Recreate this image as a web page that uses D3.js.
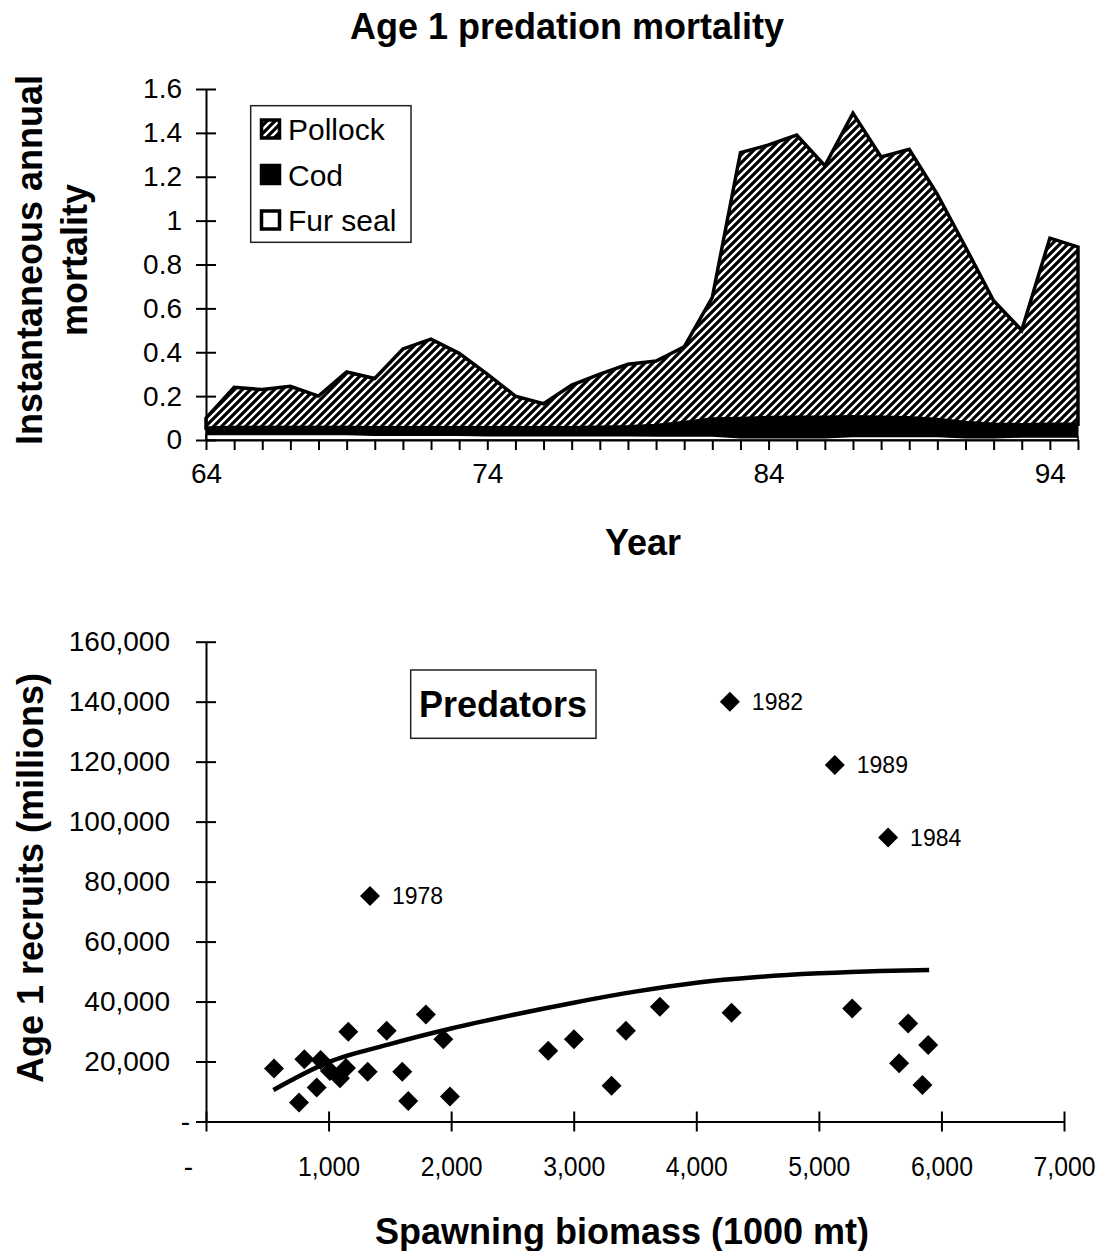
<!DOCTYPE html>
<html lang="en">
<head>
<meta charset="UTF-8">
<title>Age 1 predation mortality</title>
<script src="https://d3js.org/d3.v7.min.js"></script>
<style>
  body { margin: 0; background: #fff; }
  svg text { font-family: 'Liberation Sans', Arial, sans-serif; fill: #000; }
  .axis path, .axis line { stroke: #000; stroke-width: 2; }
</style>
</head>
<body>
<div id="chart"></div>
<script>

// ---- top panel: predation mortality by predator ----
var years = [64,65,66,67,68,69,70,71,72,73,74,75,76,77,78,79,80,81,82,83,84,85,86,87,88,89,90,91,92,93,94,95];
var pollock = [0.045,0.183,0.173,0.188,0.143,0.253,0.224,0.359,0.404,0.339,0.244,0.144,0.109,0.194,0.242,0.285,
               0.294,0.345,0.554,1.212,1.243,1.286,1.146,1.384,1.186,1.224,1.026,0.800,0.563,0.430,0.848,0.808];
var cod = [0.030,0.032,0.032,0.032,0.032,0.032,0.034,0.034,0.034,0.034,0.036,0.036,0.036,0.036,0.038,0.040,
           0.048,0.062,0.078,0.088,0.092,0.094,0.094,0.090,0.088,0.085,0.078,0.070,0.062,0.056,0.058,0.058];
var furSeal = [0.025,0.025,0.025,0.025,0.025,0.025,0.022,0.022,0.022,0.022,0.020,0.020,0.020,0.020,0.020,0.020,
               0.018,0.018,0.018,0.010,0.010,0.010,0.010,0.016,0.016,0.016,0.016,0.010,0.010,0.014,0.014,0.014];
var seriesNames = ["Pollock", "Cod", "Fur seal"];
var yTicksTop = [0, 0.2, 0.4, 0.6, 0.8, 1, 1.2, 1.4, 1.6];
var yearLabels = [64, 74, 84, 94];

// ---- bottom panel: recruits vs spawning biomass ----
var ssb = [555,759,802,903,935,1011,1093,1142,1161,1319,1474,1601,1650,1794,1936,1990,
           2792,3002,3309,3426,3703,4288,5272,5729,5892,5655,5845,
           1338,4274,5130,5565];
var recruits = [17700,6300,20800,11300,20500,16800,14400,17800,29900,16600,30300,16600,6800,35700,27400,8300,
                23600,27400,11900,30300,38300,36300,37700,32700,25500,19400,12200,
                75200,140000,118900,94700];
var pointYears = ["","","","","","","","","","","","","","","","",
                  "","","","","","","","","","","",
                  "1978","1982","1989","1984"];
var curveSsb = [550,1000,1500,2000,2500,3000,3500,4000,4500,5000,5500,5900];
var curveRecruits = [10500,19800,25800,31000,35500,39600,43300,46300,48200,49400,50200,50500];
var yTicksBottom = [0,20000,40000,60000,80000,100000,120000,140000,160000];
var xTicksBottom = [0,1000,2000,3000,4000,5000,6000,7000];

var svg = d3.select("#chart").append("svg")
  .attr("width", 1112)
  .attr("height", 1251);

var defs = svg.append("defs");
var hatch = defs.append("pattern")
  .attr("id", "hatch")
  .attr("patternUnits", "userSpaceOnUse")
  .attr("width", 8)
  .attr("height", 8);
hatch.append("rect").attr("width", 8).attr("height", 8).attr("fill", "#fff");
hatch.append("path")
  .attr("d", "M-2,2 L2,-2 M0,8 L8,0 M6,10 L10,6")
  .attr("stroke", "#000")
  .attr("stroke-width", 3.2);

// ================= top chart =================
var x1 = d3.scaleLinear().domain([64, 95]).range([206, 1078]);
var y1 = d3.scaleLinear().domain([0, 1.6]).range([440, 89]);

var table = years.map(function(yr, i) {
  return { year: yr, "Fur seal": furSeal[i], "Cod": cod[i], "Pollock": pollock[i] };
});
var stacked = d3.stack().keys(["Fur seal", "Cod", "Pollock"])(table);

var area = d3.area()
  .x(function(d) { return x1(d.data.year); })
  .y0(function(d) { return y1(d[0]); })
  .y1(function(d) { return y1(d[1]); });

var styles = {
  "Pollock": { fill: "url(#hatch)", sw: 3.5 },
  "Cod": { fill: "#000", sw: 1 },
  "Fur seal": { fill: "#fff", sw: 1.6 }
};

// draw pollock first so its outline sits under the cod band
["Pollock", "Cod", "Fur seal"].forEach(function(k) {
  var layer = stacked.find(function(s) { return s.key === k; });
  svg.append("path")
    .datum(layer)
    .attr("d", area)
    .attr("fill", styles[k].fill)
    .attr("stroke", "#000")
    .attr("stroke-width", styles[k].sw)
    .attr("stroke-linejoin", "miter");
});

var yAxisTop = svg.append("g")
  .attr("class", "axis")
  .attr("transform", "translate(206,0)")
  .call(d3.axisLeft(y1).tickValues(yTicksTop).tickSize(10).tickSizeOuter(0).tickPadding(14)
    .tickFormat(function(d) { return String(d); }));
yAxisTop.selectAll(".tick line").attr("x1", 10).attr("x2", -10);
yAxisTop.selectAll("text").style("font-size", "28px");

var xAxisTop = svg.append("g")
  .attr("class", "axis")
  .attr("transform", "translate(0,440)")
  .call(d3.axisBottom(x1).tickValues(years).tickSize(10).tickSizeOuter(0).tickPadding(13)
    .tickFormat(function(d) { return yearLabels.indexOf(d) >= 0 ? d : ""; }));
xAxisTop.selectAll("text").style("font-size", "28px");

// legend
svg.append("rect")
  .attr("x", 250.7).attr("y", 105.7)
  .attr("width", 160.3).attr("height", 136.6)
  .attr("fill", "#fff").attr("stroke", "#222").attr("stroke-width", 1.5);

var legendFill = { "Pollock": "url(#hatch)", "Cod": "#000", "Fur seal": "#fff" };
var legend = svg.selectAll(".leg")
  .data(seriesNames)
  .enter().append("g")
  .attr("class", "leg")
  .attr("transform", function(d, i) { return "translate(0," + (140 + i * 45.5) + ")"; });
legend.append("rect")
  .attr("x", 261.5).attr("y", -20)
  .attr("width", 18).attr("height", 18)
  .attr("fill", function(d) { return legendFill[d]; })
  .attr("stroke", "#000").attr("stroke-width", 3.5);
legend.append("text")
  .attr("x", 288).attr("y", 0)
  .style("font-size", "30px")
  .text(function(d) { return d; });

svg.append("text")
  .attr("x", 567).attr("y", 39)
  .attr("text-anchor", "middle")
  .style("font-size", "36px").style("font-weight", "bold")
  .text("Age 1 predation mortality");

svg.append("text")
  .attr("transform", "translate(42,260) rotate(-90)")
  .attr("text-anchor", "middle")
  .style("font-size", "36px").style("font-weight", "bold")
  .text("Instantaneous annual");
svg.append("text")
  .attr("transform", "translate(87,260) rotate(-90)")
  .attr("text-anchor", "middle")
  .style("font-size", "36px").style("font-weight", "bold")
  .text("mortality");

svg.append("text")
  .attr("x", 643).attr("y", 555)
  .attr("text-anchor", "middle")
  .style("font-size", "36px").style("font-weight", "bold")
  .text("Year");

// ================= bottom chart =================
var x2 = d3.scaleLinear().domain([0, 7000]).range([206, 1064]);
var y2 = d3.scaleLinear().domain([0, 160000]).range([1121.5, 641.7]);
var comma = d3.format(",");

var yAxisBot = svg.append("g")
  .attr("class", "axis")
  .attr("transform", "translate(206,0)")
  .call(d3.axisLeft(y2).tickValues(yTicksBottom).tickSize(10).tickSizeOuter(0).tickPadding(26)
    .tickFormat(function(d) { return d === 0 ? "-" : comma(d); }));
yAxisBot.selectAll(".tick line").attr("x1", 10).attr("x2", -10);
yAxisBot.selectAll("text").style("font-size", "28px");
yAxisBot.selectAll(".tick text").filter(function(d) { return d === 0; }).attr("x", -16);

var xAxisBot = svg.append("g")
  .attr("class", "axis")
  .attr("transform", "translate(0,1121.5)")
  .call(d3.axisBottom(x2).tickValues(xTicksBottom).tickSize(10).tickSizeOuter(0).tickPadding(25)
    .tickFormat(function(d) { return d === 0 ? "-" : comma(d); }));
xAxisBot.selectAll(".tick line").attr("y1", -10).attr("y2", 10);
xAxisBot.selectAll("text").style("font-size", "28px");
xAxisBot.selectAll(".tick text").filter(function(d) { return d === 0; }).attr("dx", -18);
xAxisBot.selectAll(".tick text").filter(function(d) { return d !== 0; })
  .attr("textLength", 62).attr("lengthAdjust", "spacingAndGlyphs");

// fitted curve
var curveLine = d3.line()
  .x(function(d, i) { return x2(curveSsb[i]); })
  .y(function(d) { return y2(d); })
  .curve(d3.curveMonotoneX);
svg.append("path")
  .attr("d", curveLine(curveRecruits))
  .attr("fill", "none")
  .attr("stroke", "#000")
  .attr("stroke-width", 4.5);

// diamonds
var diamond = d3.symbol().type(d3.symbolSquare).size(200);
svg.selectAll(".pt")
  .data(ssb)
  .enter().append("path")
  .attr("class", "pt")
  .attr("d", diamond)
  .attr("transform", function(d, i) {
    return "translate(" + x2(d) + "," + y2(recruits[i]) + ") rotate(45)";
  })
  .attr("fill", "#000");

svg.selectAll(".ptlab")
  .data(ssb)
  .enter().append("text")
  .attr("class", "ptlab")
  .attr("x", function(d) { return x2(d) + 22; })
  .attr("y", function(d, i) { return y2(recruits[i]); })
  .attr("dy", "0.36em")
  .style("font-size", "23px")
  .text(function(d, i) { return pointYears[i]; });

// "Predators" box
svg.append("rect")
  .attr("x", 410.7).attr("y", 670)
  .attr("width", 185.3).attr("height", 68.3)
  .attr("fill", "#fff").attr("stroke", "#222").attr("stroke-width", 1.5);
svg.append("text")
  .attr("x", 503).attr("y", 716.7)
  .attr("text-anchor", "middle")
  .style("font-size", "36px").style("font-weight", "bold")
  .text("Predators");

svg.append("text")
  .attr("transform", "translate(43,878) rotate(-90)")
  .attr("text-anchor", "middle")
  .style("font-size", "36px").style("font-weight", "bold")
  .text("Age 1 recruits (millions)");

svg.append("text")
  .attr("x", 622).attr("y", 1244)
  .attr("text-anchor", "middle")
  .style("font-size", "36px").style("font-weight", "bold")
  .text("Spawning biomass (1000 mt)");

</script>
</body>
</html>
